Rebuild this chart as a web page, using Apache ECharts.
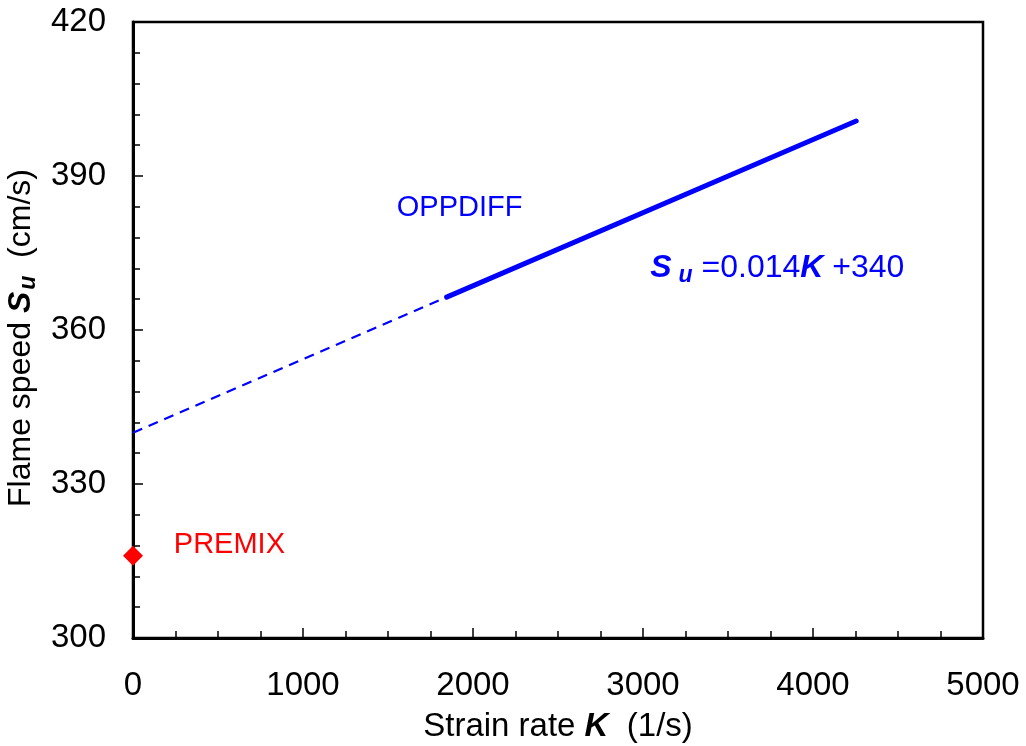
<!DOCTYPE html>
<html><head><meta charset="utf-8">
<script src="https://cdn.jsdelivr.net/npm/echarts@6/dist/echarts.min.js"></script>
<style>html,body{margin:0;padding:0;background:#fff}#c{width:1026px;height:746px}</style>
</head><body><div id="c"></div>
<script>
// Data
const dashedFit = [[0, 340], [1845, 366.4]];
const oppdiff = [[1845, 366.4], [4254, 400.7]];
const premix = [[0, 316]];
const xTicks = { min: 0, max: 5000, interval: 1000 };
const yTicks = { min: 300, max: 420, interval: 30 };
const labelOppdiff = [[1921, 383.8]];
const labelEq = [[3790, 372.1]];
const labelPremix = [[567, 318.1]];

const F = '"Liberation Sans", Arial, sans-serif';
const chart = echarts.init(document.getElementById('c'));
chart.setOption({
  animation: false,
  backgroundColor: '#fff',
  grid: { left: 133, right: 43, top: 22, bottom: 108, show: true, borderColor: '#000', borderWidth: 2.5,
          containLabel: false, outerBoundsMode: 'none' },
  xAxis: {
    type: 'value', min: xTicks.min, max: xTicks.max, interval: xTicks.interval,
    axisLine: { show: true, lineStyle: { color: '#000', width: 3 } },
    axisTick: { show: true, inside: true, length: 10, lineStyle: { color: '#000', width: 1.5 } },
    minorTick: { show: true, splitNumber: 4, length: 7, lineStyle: { color: '#000', width: 1.5 } },
    splitLine: { show: false },
    axisLabel: { color: '#000', fontSize: 33, fontFamily: F, margin: 31, formatter: v => String(v) },
    name: '{n|Strain rate }{b|K}{n|  (1/s)}',
    nameLocation: 'middle', nameGap: 72,
    nameTextStyle: { rich: {
      n: { fontSize: 33, fontFamily: F, color: '#000' },
      b: { fontSize: 33, fontFamily: F, color: '#000', fontWeight: 'bold', fontStyle: 'italic' } } }
  },
  yAxis: {
    type: 'value', min: yTicks.min, max: yTicks.max, interval: yTicks.interval,
    axisLine: { show: true, lineStyle: { color: '#000', width: 3 } },
    axisTick: { show: true, inside: true, length: 10, lineStyle: { color: '#000', width: 1.5 } },
    minorTick: { show: true, splitNumber: 5, length: 7, lineStyle: { color: '#000', width: 1.5 } },
    splitLine: { show: false },
    axisLabel: { color: '#000', fontSize: 33, fontFamily: F, margin: 27, formatter: v => String(v) },
    name: '{n|Flame speed }{b|S}{s|u}{n|  (cm/s)}',
    nameLocation: 'middle', nameGap: 82, nameRotate: 90,
    nameTextStyle: { padding: [0, 16, 0, 0], rich: {
      n: { fontSize: 32, fontFamily: F, color: '#000' },
      b: { fontSize: 32, fontFamily: F, color: '#000', fontWeight: 'bold', fontStyle: 'italic' },
      s: { fontSize: 23, fontFamily: F, color: '#000', fontWeight: 'bold', fontStyle: 'italic', padding: [14, 0, 0, 2] } } }
  },
  series: [
    { type: 'line', data: dashedFit, symbol: 'none', lineStyle: { color: '#0000ff', width: 2.2, type: [10, 7] }, z: 3 },
    { type: 'line', data: oppdiff, symbol: 'none', lineStyle: { color: '#0000ff', width: 5, cap: 'round' }, z: 4 },
    { type: 'scatter', data: premix, symbol: 'diamond', symbolSize: 20, itemStyle: { color: '#ff0000', opacity: 1 }, z: 5 },
    { type: 'scatter', data: labelOppdiff, symbolSize: 0, silent: true, itemStyle: { opacity: 1 },
      label: { show: true, position: 'inside', formatter: 'OPPDIFF', color: '#0000ff', fontSize: 29, fontFamily: F } },
    { type: 'scatter', data: labelEq, symbolSize: 0, silent: true, itemStyle: { opacity: 1 },
      label: { show: true, position: 'inside', formatter: '{b|S}{s|u}{n| =0.014}{b|K}{n| +340}',
        rich: {
          n: { fontSize: 32, fontFamily: F, color: '#0000ff' },
          b: { fontSize: 32, fontFamily: F, color: '#0000ff', fontWeight: 'bold', fontStyle: 'italic' },
          s: { fontSize: 23, fontFamily: F, color: '#0000ff', fontWeight: 'bold', fontStyle: 'italic', padding: [16, 0, 0, 7] } } } },
    { type: 'scatter', data: labelPremix, symbolSize: 0, silent: true, itemStyle: { opacity: 1 },
      label: { show: true, position: 'inside', formatter: 'PREMIX', color: '#ff0000', fontSize: 29, fontFamily: F } }
  ]
});
</script></body></html>
